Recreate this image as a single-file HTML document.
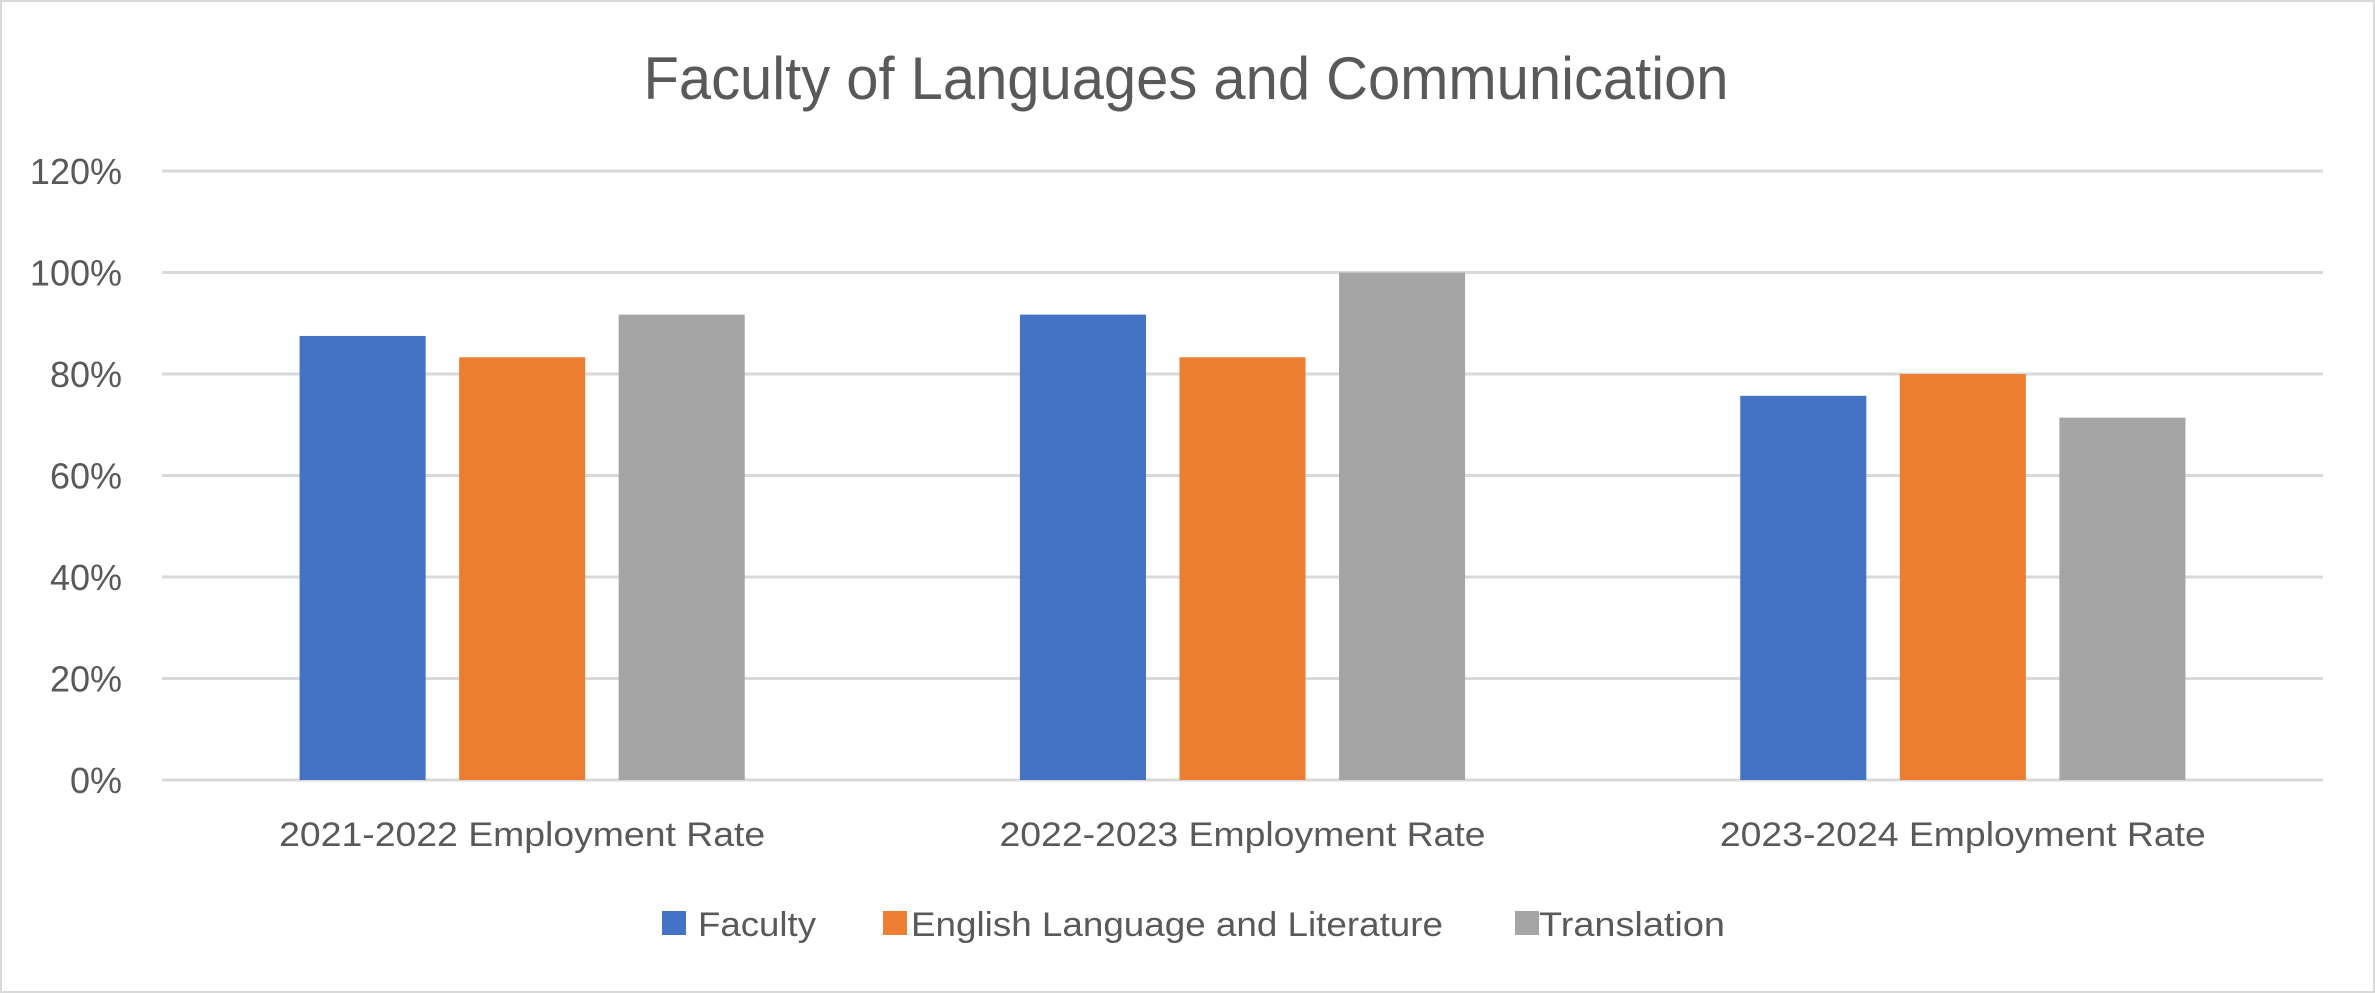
<!DOCTYPE html>
<html><head><meta charset="utf-8"><style>
html,body{margin:0;padding:0;background:#fff;}
svg{display:block;font-family:"Liberation Sans",sans-serif;}
</style></head><body>
<svg id="chart" width="2375" height="993" viewBox="0 0 2375 993">
<rect x="1" y="1" width="2373" height="991" fill="#fff" stroke="#d9d9d9" stroke-width="2"/>
<text x="1186" y="99" text-anchor="middle" font-size="60" fill="#595959" textLength="1085" lengthAdjust="spacingAndGlyphs">Faculty of Languages  and Communication</text>
<g id="grid"></g><g id="bars"></g><g id="xlabels"></g>
<g>
<rect x="662" y="911" width="24" height="24" fill="#4472c4"/>
<text x="698" y="936" font-size="34" fill="#595959" textLength="118" lengthAdjust="spacingAndGlyphs">Faculty</text>
<rect x="883" y="911" width="24" height="24" fill="#ed7d31"/>
<text x="911" y="936" font-size="34" fill="#595959" textLength="532" lengthAdjust="spacingAndGlyphs">English Language and Literature</text>
<rect x="1515" y="911" width="24" height="24" fill="#a5a5a5"/>
<text x="1539" y="936" font-size="34" fill="#595959" textLength="186" lengthAdjust="spacingAndGlyphs">Translation</text>
</g>
</svg>
<script>
const categories = ["2021-2022 Employment Rate","2022-2023 Employment Rate","2023-2024 Employment Rate"];
const seriesNames = ["Faculty","English Language and Literature","Translation"];
const facultyValues = [87.5, 91.7, 75.7];
const englishValues = [83.3, 83.3, 80.0];
const translationValues = [91.7, 100, 71.4];
const yTicks = [0,20,40,60,80,100,120];
const yTickLabels = ["0%","20%","40%","60%","80%","100%","120%"];

const NS="http://www.w3.org/2000/svg";
const plotL=162, plotR=2323, y0=780, yTop=171, yMax=120;
const colors=["#4472c4","#ed7d31","#a5a5a5"];
const series=[facultyValues,englishValues,translationValues];
function yScale(v){return y0-(v/yMax)*(y0-yTop);}
const catW=(plotR-plotL)/categories.length;
function xCenter(i){return plotL+catW*(i+0.5);}
const barW=catW*0.175, barPitch=catW*0.2215;
function mk(tag,attrs){const e=document.createElementNS(NS,tag);for(const k in attrs)e.setAttribute(k,attrs[k]);return e;}
const grid=document.getElementById('grid');
yTicks.forEach((t,i)=>{
  const y=yScale(t);
  const l=mk('line',{x1:plotL,x2:plotR,y1:y,y2:y,stroke:'#d9d9d9','stroke-width':3});
  
  
  grid.appendChild(l);
  const tx=mk('text',{x:122,y:y+13,'text-anchor':'end','font-size':36,fill:'#595959'});
  
  
  tx.textContent=yTickLabels[i];
  grid.appendChild(tx);
});
const bars=document.getElementById('bars');
categories.forEach((c,i)=>{
  series.forEach((s,j)=>{
    const cx=xCenter(i)+(j-1)*barPitch;
    const y=yScale(s[j===j?i:i]);
    const r=mk('rect',{x:cx-barW/2,y:y,width:barW,height:y0-y,fill:colors[j]});
    
    
    bars.appendChild(r);
  });
  const t=mk('text',{x:xCenter(i),y:846,'text-anchor':'middle','font-size':34,fill:'#595959',textLength:486,lengthAdjust:'spacingAndGlyphs'});
  
  
  t.textContent=c;
  document.getElementById('xlabels').appendChild(t);
});
</script>
</body></html>
